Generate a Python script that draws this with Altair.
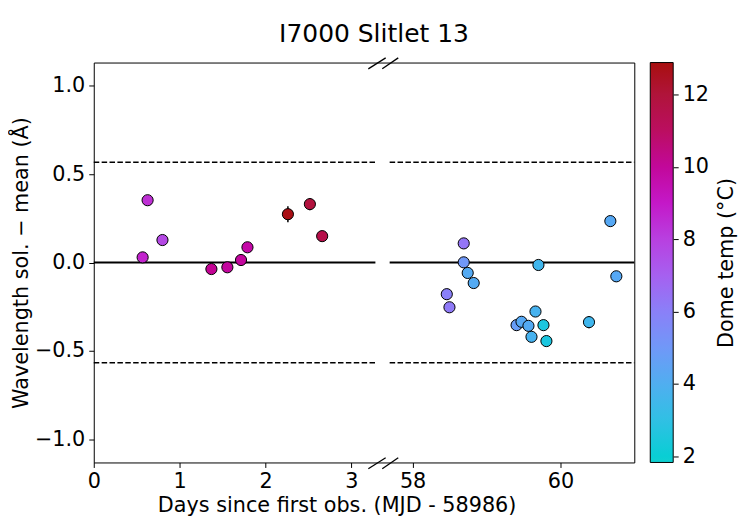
import altair as alt
import pandas as pd

# ---- data ----
days = [0.569, 0.627, 0.80, 1.37, 1.556, 1.715, 1.79, 2.261, 2.517, 2.66,
        58.463, 58.499, 58.692, 58.692, 58.746, 58.827, 59.407, 59.474, 59.568,
        59.609, 59.663, 59.703, 59.771, 59.811, 60.387, 60.676, 60.757]
resid = [0.029, 0.352, 0.127, -0.037, -0.027, 0.014, 0.086, 0.273, 0.330, 0.149,
         -0.179, -0.253, 0.108, 0.001, -0.059, -0.116, -0.354, -0.335, -0.358,
         -0.420, -0.277, -0.014, -0.354, -0.444, -0.337, 0.234, -0.078]
err = [0.015, 0.015, 0.015, 0.015, 0.015, 0.015, 0.015, 0.045, 0.035, 0.015,
       0.015, 0.015, 0.015, 0.015, 0.015, 0.015, 0.015, 0.015, 0.015,
       0.03, 0.025, 0.015, 0.025, 0.015, 0.035, 0.015, 0.015]
temp = [8.8, 8.5, 7.8, 10.1, 9.9, 9.9, 9.7, 12.8, 11.9, 11.6,
        6.0, 6.2, 6.4, 5.0, 4.2, 4.2, 4.8, 4.3, 4.2,
        3.8, 3.8, 3.6, 2.6, 2.6, 3.6, 4.3, 4.3]

seg_start = [0.0, 57.69]
seg_end = [3.28, 61.0]
dash_levels = [0.567, -0.567]

x_ticks = [0, 1, 2, 3, 58, 60]
y_ticks = [-1.0, -0.5, 0.0, 0.5, 1.0]
cbar_ticks = [2, 4, 6, 8, 10, 12]

cmap_vals = [1.83, 3, 4, 5, 6, 7, 8, 9, 10, 11, 12, 12.88]
cmap_cols = ["#10d0d0", "#30c0e4", "#50aef0", "#7098f8", "#8a80f8", "#a660f0",
             "#b840e0", "#c418c8", "#c2089a", "#bb0e60", "#b0143a", "#a80f0f"]

FONT = "DejaVu Sans"
FS = 20.8

df = pd.DataFrame({"day": days, "resid": resid, "err": err, "temp": temp})
zero_df = pd.DataFrame({"x0": seg_start, "x1": seg_end, "y": [0.0] * len(seg_start)})
dash_df = pd.DataFrame([{"x0": a, "x1": b, "y": lv}
                        for lv in dash_levels for a, b in zip(seg_start, seg_end)])
one = pd.DataFrame({"k": [0]})
cb_df = pd.DataFrame({"v": cbar_ticks})

W, H = 542, 401
xscale = alt.Scale(domain=[0, 3.28, 57.69, 61.0], range=[0, 282.4, 296.7, W],
                   nice=False, zero=False)
yscale = alt.Scale(domain=[-1.13, 1.13], nice=False, zero=False)

xaxis = alt.Axis(values=x_ticks, format="d", title="Days since first obs. (MJD - 58986)",
                 grid=False, domain=False, tickSize=5, tickColor="black", tickWidth=1,
                 labelFontSize=FS, labelColor="black", labelPadding=4, labelFlush=False,
                 titleFontSize=FS, titleFontWeight="normal", titleColor="black",
                 titleX=243.5, titleY=48.7, titleBaseline="alphabetic", titleAlign="center")
yaxis = alt.Axis(values=y_ticks, title="Wavelength sol. \u2212 mean (\u00c5)",
                 labelExpr="replace(format(datum.value, '.1f'), '-', '\u2212')",
                 grid=False, domain=False, tickSize=5, tickColor="black", tickWidth=1,
                 labelFontSize=FS, labelColor="black", labelPadding=4, labelFlush=False,
                 titleFontSize=FS, titleFontWeight="normal", titleColor="black",
                 titleX=-72, titleY=H / 2, titleAngle=270, titleBaseline="middle",
                 titleAlign="center")

zero_line = alt.Chart(zero_df).mark_rule(color="black", strokeWidth=2).encode(
    x=alt.X("x0:Q", scale=xscale, axis=xaxis), x2="x1:Q",
    y=alt.Y("y:Q", scale=yscale, axis=yaxis))
dash_lines = alt.Chart(dash_df).mark_rule(color="black", strokeWidth=1.5,
                                          strokeDash=[5.5, 2.4]).encode(
    x=alt.X("x0:Q", scale=xscale), x2="x1:Q", y=alt.Y("y:Q", scale=yscale))
errbars = alt.Chart(df).transform_calculate(
    lo="datum.resid - datum.err", hi="datum.resid + datum.err"
).mark_rule(color="black", strokeWidth=1.5).encode(
    x=alt.X("day:Q", scale=xscale), y=alt.Y("lo:Q", scale=yscale), y2="hi:Q")
points = alt.Chart(df).mark_circle(size=125, stroke="black", strokeWidth=1,
                                   opacity=1).encode(
    x=alt.X("day:Q", scale=xscale), y=alt.Y("resid:Q", scale=yscale),
    fill=alt.Fill("temp:Q",
                  scale=alt.Scale(domain=cmap_vals, range=cmap_cols, type="linear"),
                  legend=alt.Legend(orient="none", legendX=558, legendY=0,
                                    direction="vertical", gradientLength=H,
                                    gradientThickness=23, gradientStrokeColor="black",
                                    gradientStrokeWidth=1, values=cbar_ticks,
                                    labelExpr="''", title=None, padding=0)))

def slash(x0, x1, y0, y1):
    return alt.Chart(one).mark_rule(color="black", strokeWidth=1.3).encode(
        x=alt.value(x0), x2=alt.value(x1), y=alt.value(y0), y2=alt.value(y1))

breaks = [slash(275.3, 292.7, 6.3, -4.7), slash(289.3, 305.3, 6.3, -4.7),
          slash(275.3, 292.7, H + 6.3, H - 4.7), slash(289.3, 305.3, H + 6.3, H - 4.7)]

main = alt.layer(zero_line, dash_lines, errbars, points, *breaks)

cbar_axis = alt.Chart(cb_df).mark_point(opacity=0).encode(
    y=alt.Y("v:Q", scale=alt.Scale(domain=[1.83, 12.88], nice=False, zero=False),
            axis=alt.Axis(orient="right", offset=39, values=cbar_ticks, format="d",
                          title="Dome temp (\u00b0C)", grid=False, domain=False,
                          tickSize=5, tickColor="black", tickWidth=1,
                          labelFontSize=FS, labelColor="black", labelPadding=4,
                          labelFlush=False, titleFontSize=FS, titleFontWeight="normal",
                          titleColor="black", titleX=53, titleY=H / 2, titleAngle=270,
                          titleBaseline="middle", titleAlign="center")))

chart = alt.layer(main, cbar_axis).resolve_scale(y="independent").properties(
    width=W, height=H,
    autosize=alt.AutoSizeParams(type="none"),
    padding={"left": 86, "top": 54, "right": 108, "bottom": 56},
    title=alt.TitleParams("I7000 Slitlet 13", fontSize=25, fontWeight="normal",
                          font=FONT, color="black", anchor="middle", dx=10,
                          offset=-9.6, baseline="alphabetic", frame="group"),
).configure(font=FONT).configure_axis(labelFont=FONT, titleFont=FONT).configure_view(
    stroke="black", strokeWidth=1)

chart.save("out.html", embed_options={"renderer": "svg", "actions": False})
